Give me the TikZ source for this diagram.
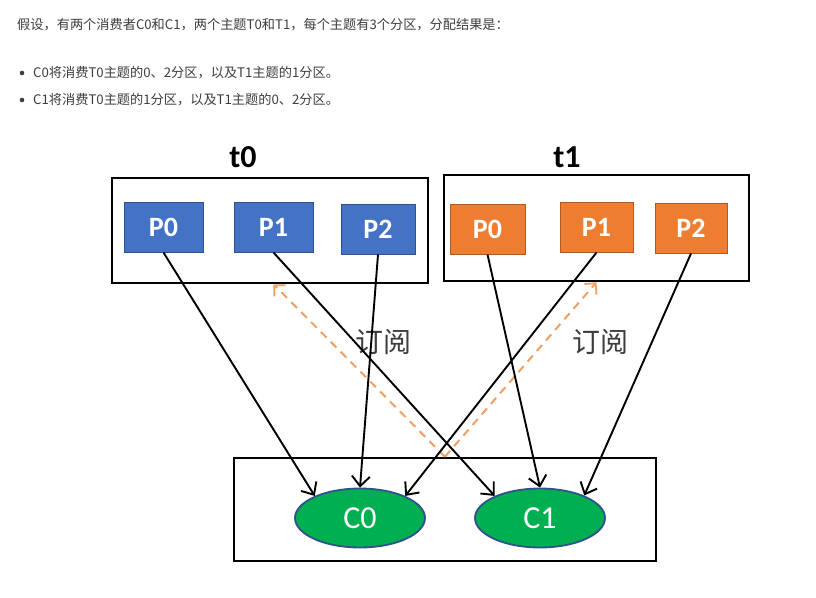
\documentclass[tikz,border=0pt]{standalone}
\usepackage{fontspec}
\setmainfont{Carlito}
\newfontfamily\cjk{Noto Sans CJK SC}
\usetikzlibrary{arrows.meta,shapes.geometric}
\definecolor{txtgray}{HTML}{3D3D3D}
\definecolor{pblue}{HTML}{4472C4}
\definecolor{pblueb}{HTML}{2F528F}
\definecolor{porange}{HTML}{ED7D31}
\definecolor{porangeb}{HTML}{AE5A21}
\definecolor{cgreen}{HTML}{00B050}
\definecolor{dashor}{HTML}{F0A064}
\tikzset{
  topic/.style={draw=black, line width=2.5pt, inner sep=0pt},
  bpart/.style={draw=pblueb, fill=pblue, line width=1pt, minimum width=79pt, minimum height=50pt, inner sep=0pt, text=white, font=\fontsize{28}{30}\selectfont\bfseries},
  opart/.style={draw=porangeb, fill=porange, line width=1pt, minimum width=75pt, minimum height=50pt, inner sep=0pt, text=white, font=\fontsize{28}{30}\selectfont\bfseries},
  cons/.style={ellipse, draw=pblueb, fill=cgreen, line width=1.8pt, minimum width=130pt, minimum height=59pt, inner sep=0pt, text=white, font=\fontsize{32}{34}\selectfont},
  link/.style={draw=black, line width=1.9pt, -{Straight Barb[length=10pt,width=18pt,line width=1.9pt]}},
  sub/.style={draw=dashor, line width=2pt, dash pattern=on 8pt off 6pt, -{Straight Barb[length=8pt,width=16pt,line width=1.8pt]}},
  ttl/.style={font=\fontsize{32}{34}\selectfont\bfseries, text=black},
  sublbl/.style={font=\cjk\fontsize{28}{30}\selectfont, text=txtgray},
  para/.style={anchor=west, inner sep=0pt, font=\cjk\fontsize{13.2}{16}\selectfont, text=txtgray}
}
\begin{document}
\begin{tikzpicture}[x=1pt,y=-1pt]
\useasboundingbox[fill=white] (0,0) rectangle (816,597);
% text
\node[para] (l1) at (17,25) {假设，有两个消费者C0和C1，两个主题T0和T1，每个主题有3个分区，分配结果是：};
\fill[txtgray] (22,73) circle (2.3pt);
\node[para] (l2) at (33,73) {C0将消费T0主题的0、2分区，以及T1主题的1分区。};
\fill[txtgray] (22,100) circle (2.3pt);
\node[para] (l3) at (33,100) {C1将消费T0主题的1分区，以及T1主题的0、2分区。};
% topic boxes
\node[topic, minimum width=316pt, minimum height=105pt] (t0box) at (270,230.5) {};
\node[topic, minimum width=305pt, minimum height=106pt] (t1box) at (596.5,228) {};
\node[ttl] (t0lbl) at (243,157) {t0};
\node[ttl] (t1lbl) at (567,157) {t1};
\node[bpart] (a0) at (163.5,227) {P0};
\node[bpart] (a1) at (273.5,227) {P1};
\node[bpart, minimum width=74pt] (a2) at (378,229) {P2};
\node[opart] (b0) at (487.5,229) {P0};
\node[opart, minimum width=73pt] (b1) at (596.5,227) {P1};
\node[opart, minimum width=72pt] (b2) at (691,228) {P2};
% consumer box
\node[topic, minimum width=422pt, minimum height=103pt] (cbox) at (445,509.5) {};
\node[cons] (c0) at (360,518) {C0};
\node[cons] (c1) at (540,518) {C1};
% subscriptions
\draw[sub] (cbox.north) -- (t0box.south -| a1.south);
\draw[sub] (cbox.north) -- (t1box.south -| b1.south);
\node[sublbl] (s0) at (383,342) {订阅};
\node[sublbl] (s1) at (600,342) {订阅};
% assignments
\draw[link] (a0.south) -- (c0.154);
\draw[link] (a2.south) -- (c0.90);
\draw[link] (b1.south) -- (c0.26);
\draw[link] (a1.south) -- (c1.154);
\draw[link] (b0.south) -- (c1.90);
\draw[link] (b2.south) -- (c1.27);
\end{tikzpicture}
\end{document}
